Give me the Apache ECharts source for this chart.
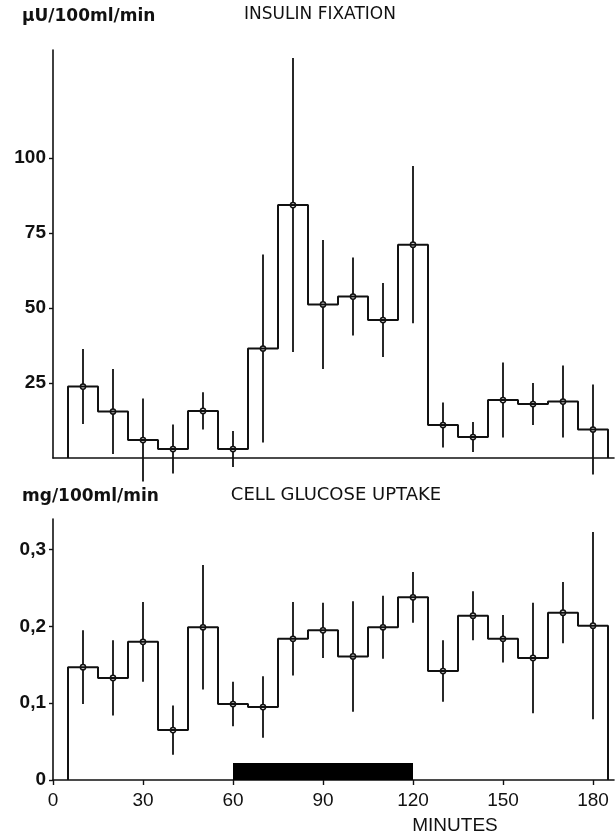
<!DOCTYPE html>
<html>
<head>
<meta charset="utf-8">
<script src="https://cdn.jsdelivr.net/npm/echarts@6/dist/echarts.min.js"></script>
<style>
  html, body { margin: 0; padding: 0; background: #fff; }
  #main { width: 616px; height: 836px; }
</style>
</head>
<body>
<div id="main"></div>
<script>
// bin centres (minutes), each bin is 10 min wide
var minutes = [10, 20, 30, 40, 50, 60, 70, 80, 90, 100, 110, 120, 130, 140, 150, 160, 170, 180];
var binWidth = 10;

// insulin fixation, µU/100ml/min (mean and error bar half-length)
var insulin = [23.8, 15.5, 6, 3, 15.7, 3, 36.5, 84.3, 51.2, 53.8, 46, 71.1, 11, 7, 19.3, 18, 18.8, 9.5];
var insulinErr = [12.5, 14.2, 13.8, 8.2, 6.2, 6, 31.3, 49, 21.5, 13, 12.3, 26.2, 7.5, 5, 12.5, 7, 12, 15];

// cell glucose uptake, mg/100ml/min
var glucose = [0.147, 0.133, 0.180, 0.065, 0.199, 0.099, 0.095, 0.184, 0.195, 0.161, 0.199, 0.238, 0.142, 0.214, 0.184, 0.159, 0.218, 0.201];
var glucoseErr = [0.048, 0.049, 0.052, 0.032, 0.081, 0.029, 0.040, 0.048, 0.036, 0.072, 0.041, 0.033, 0.040, 0.032, 0.031, 0.072, 0.040, 0.122];

// infusion period shown by the black bar
var infusion = [60, 120];
var infusionBarTop = 0.022;

var xTicks = [0, 30, 60, 90, 120, 150, 180];
var insulinTicks = [25, 50, 75, 100];
var glucoseTicks = [0, 0.1, 0.2, 0.3];

var ink = '#111';

// outline of the histogram: up at the first edge, steps, down at the last edge
function stepPath(centres, vals) {
  var pts = [];
  var half = binWidth / 2;
  pts.push([centres[0] - half, 0]);
  for (var i = 0; i < centres.length; i++) {
    pts.push([centres[i] - half, vals[i]]);
    pts.push([centres[i] + half, vals[i]]);
  }
  pts.push([centres[centres.length - 1] + half, 0]);
  return pts;
}

function errData(centres, vals, errs) {
  return centres.map(function (c, i) { return [c, vals[i], errs[i]]; });
}

function renderErr(params, api) {
  var x = api.value(0), m = api.value(1), e = api.value(2);
  var lo = api.coord([x, m - e]);
  var hi = api.coord([x, m + e]);
  var c = api.coord([x, m]);
  return {
    type: 'group',
    children: [
      { type: 'line', shape: { x1: lo[0], y1: lo[1], x2: hi[0], y2: hi[1] },
        style: { stroke: ink, lineWidth: 1.8 } },
      { type: 'circle', shape: { cx: c[0], cy: c[1], r: 2.6 },
        style: { fill: '#fff', stroke: ink, lineWidth: 1.5 } }
    ]
  };
}

var chart = echarts.init(document.getElementById('main'));

var xBase = {
  type: 'value', min: 0, max: 187,
  splitLine: { show: false },
  axisLine: { show: true, onZero: false, lineStyle: { color: ink, width: 1.6 } }
};

chart.setOption({
  animation: false,
  backgroundColor: '#fff',
  textStyle: { fontFamily: 'Liberation Sans' },
  grid: [
    { left: 53, width: 561, top: 50, height: 408 },
    { left: 53, width: 561, top: 519, height: 261 }
  ],
  xAxis: [
    Object.assign({}, xBase, {
      gridIndex: 0,
      axisTick: { show: false },
      axisLabel: { show: false }
    }),
    Object.assign({}, xBase, {
      gridIndex: 1,
      axisTick: { show: true, length: 5, customValues: xTicks, lineStyle: { color: ink, width: 1.4 } },
      axisLabel: {
        customValues: xTicks, margin: 11, color: ink,
        fontSize: 19, fontFamily: 'Liberation Sans'
      }
    })
  ],
  yAxis: [
    {
      type: 'value', gridIndex: 0, min: 0, max: 136,
      splitLine: { show: false },
      axisLine: { show: true, lineStyle: { color: ink, width: 1.6 } },
      axisTick: { show: true, length: 4, customValues: insulinTicks, lineStyle: { color: ink, width: 1.4 } },
      axisLabel: {
        customValues: insulinTicks, margin: 7, color: ink,
        fontSize: 19, fontWeight: 'bold', fontFamily: 'Liberation Sans'
      }
    },
    {
      type: 'value', gridIndex: 1, min: 0, max: 0.34,
      splitLine: { show: false },
      axisLine: { show: true, lineStyle: { color: ink, width: 1.6 } },
      axisTick: { show: true, length: 4, customValues: glucoseTicks, lineStyle: { color: ink, width: 1.4 } },
      axisLabel: {
        customValues: glucoseTicks, margin: 7, color: ink,
        fontSize: 19, fontWeight: 'bold', fontFamily: 'Liberation Sans',
        formatter: function (v) { return String(+v.toFixed(2)).replace('.', ','); }
      }
    }
  ],
  series: [
    {
      type: 'line', xAxisIndex: 0, yAxisIndex: 0,
      data: stepPath(minutes, insulin),
      symbol: 'none', lineStyle: { color: ink, width: 2 }
    },
    {
      type: 'custom', xAxisIndex: 0, yAxisIndex: 0,
      data: errData(minutes, insulin, insulinErr),
      renderItem: renderErr, clip: false, z: 3
    },
    {
      type: 'line', xAxisIndex: 1, yAxisIndex: 1,
      data: stepPath(minutes, glucose),
      symbol: 'none', lineStyle: { color: ink, width: 2 },
      markArea: {
        silent: true,
        itemStyle: { color: '#000', opacity: 1 },
        data: [[{ coord: [infusion[0], 0] }, { coord: [infusion[1], infusionBarTop] }]]
      }
    },
    {
      type: 'custom', xAxisIndex: 1, yAxisIndex: 1,
      data: errData(minutes, glucose, glucoseErr),
      renderItem: renderErr, clip: false, z: 3
    }
  ],
  graphic: [
    { type: 'text', left: 22, top: 8,
      style: { text: 'μU/100ml/min', font: 'bold 17px "DejaVu Sans"', fill: ink } },
    { type: 'text', x: 320, y: 15,
      style: { text: 'INSULIN FIXATION', font: '17px "DejaVu Sans"', fill: ink,
               align: 'center', verticalAlign: 'middle' } },
    { type: 'text', left: 22, top: 488,
      style: { text: 'mg/100ml/min', font: 'bold 17px "DejaVu Sans"', fill: ink } },
    { type: 'text', x: 336, y: 495,
      style: { text: 'CELL GLUCOSE UPTAKE', font: '18px "DejaVu Sans"', fill: ink,
               align: 'center', verticalAlign: 'middle' } },
    { type: 'text', x: 455, y: 826,
      style: { text: 'MINUTES', font: '19px "Liberation Sans"', fill: ink,
               align: 'center', verticalAlign: 'middle' } }
  ]
});
</script>
</body>
</html>
